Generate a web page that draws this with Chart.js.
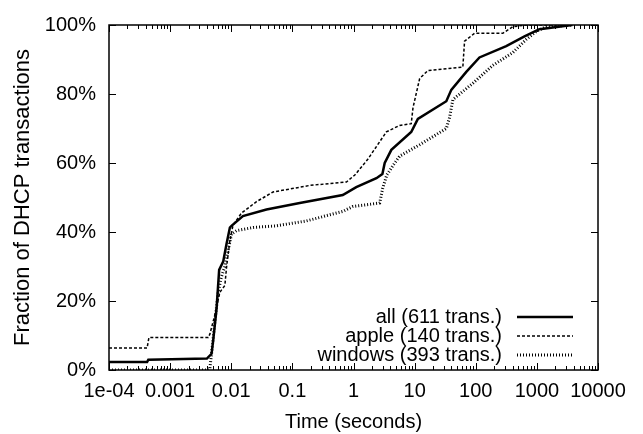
<!DOCTYPE html>
<html>
<head>
<meta charset="utf-8">
<script src="https://cdn.jsdelivr.net/npm/chart.js@4"></script>
<style>
  body { margin: 0; background: #fff; }
  #wrap { width: 643px; height: 434px; }
</style>
</head>
<body>
<div id="wrap"><canvas id="cdf_chart"></canvas></div>
<script>
// tick labels for the log time axis
var xTickValues = [1e-4, 1e-3, 1e-2, 1e-1, 1, 10, 100, 1000, 10000];
var xTickLabels = ['1e-04', '0.001', '0.01', '0.1', '1', '10', '100', '1000', '10000'];
var yTickValues = [0, 20, 40, 60, 80, 100];

// series (time in s, fraction in %)
var allTime = [1e-4, 4.2e-4, 4.4e-4, 0.0040, 0.00476, 0.00506, 0.00575, 0.00634, 0.00738, 0.00838, 0.0095, 0.0101, 0.0155, 0.0377, 0.132, 0.667, 1.11, 2.37, 2.97, 3.24, 4.16, 8.8, 11.3, 33, 39.8, 70, 115, 315, 627, 1100, 3800];
var allFrac = [2.3, 2.3, 3.0, 3.3, 4.7, 8.5, 17.8, 29, 31.4, 36.6, 41.3, 41.8, 44.6, 46.5, 48.4, 50.7, 53, 55.6, 56.8, 60, 63.8, 69, 72.8, 77.9, 81.2, 86.4, 90.6, 93.9, 96.7, 98.8, 100];

var appleTime = [1e-4, 4.2e-4, 4.5e-4, 0.0042, 0.00447, 0.0054, 0.0065, 0.00786, 0.0084, 0.0095, 0.0107, 0.0147, 0.0259, 0.0484, 0.192, 0.766, 1.05, 1.7, 3.45, 5.7, 8.8, 9.4, 12.1, 16.5, 61.5, 65.6, 95.5, 277, 404, 668, 4000];
var appleFrac = [6.4, 6.4, 9.4, 9.4, 10.4, 16, 22.5, 24.5, 30, 37.5, 42, 45.5, 48.8, 51.6, 53.5, 54.5, 56.5, 61, 69, 70.9, 71.4, 76, 84.5, 86.8, 87.8, 95.3, 97.6, 97.6, 99.5, 100, 100];

var windowsTime = [1e-4, 0.0043, 0.00447, 0.00476, 0.0054, 0.0061, 0.0069, 0.00786, 0.0089, 0.0101, 0.0122, 0.0228, 0.055, 0.17, 0.674, 0.98, 2.68, 3.0, 3.5, 4.4, 5.7, 12.1, 33, 37.3, 42.3, 89.7, 190, 404, 668, 975, 1419, 3800];
var windowsFrac = [0, 0, 0.5, 4.7, 14, 22.5, 27, 30, 34.7, 39.4, 40.4, 41.3, 41.8, 43.2, 46, 47.4, 48.4, 52.6, 56.5, 59.2, 62, 65.3, 70, 73.2, 78.4, 83.1, 88.3, 92, 95.8, 98.1, 99.5, 100];

var seriesNames = ['all (611 trans.)', 'apple (140 trans.)', 'windows (393 trans.)'];

function toPoints(xs, ys) {
  var pts = [];
  for (var i = 0; i < xs.length; i++) { pts.push({x: xs[i], y: ys[i]}); }
  return pts;
}

var FONT = '"Liberation Sans", Arial, Helvetica, sans-serif';

// gnuplot style frame with inward ticks on all four sides
var framePlugin = {
  id: 'frame',
  afterDatasetsDraw: function(chart) {
    var ctx = chart.ctx, a = chart.chartArea;
    var sx = chart.scales.x, sy = chart.scales.y;
    ctx.save();
    ctx.strokeStyle = '#000';
    ctx.lineWidth = 1;
    ctx.beginPath();
    for (var d = -4; d <= 4; d++) {
      var px = Math.round(sx.getPixelForValue(Math.pow(10, d))) + 0.5;
      ctx.moveTo(px, a.bottom); ctx.lineTo(px, a.bottom - 7);
      ctx.moveTo(px, a.top); ctx.lineTo(px, a.top + 7);
      if (d < 4) {
        for (var m = 2; m <= 9; m++) {
          var mx = Math.round(sx.getPixelForValue(m * Math.pow(10, d))) + 0.5;
          ctx.moveTo(mx, a.bottom); ctx.lineTo(mx, a.bottom - 4);
          ctx.moveTo(mx, a.top); ctx.lineTo(mx, a.top + 4);
        }
      }
    }
    yTickValues.forEach(function(v) {
      var py = Math.round(sy.getPixelForValue(v)) + 0.5;
      ctx.moveTo(a.left, py); ctx.lineTo(a.left + 7, py);
      ctx.moveTo(a.right, py); ctx.lineTo(a.right - 7, py);
    });
    ctx.stroke();
    ctx.lineWidth = 1.5;
    ctx.strokeRect(a.left, a.top, a.right - a.left, a.bottom - a.top);

    // key, bottom right inside the plot
    ctx.font = '20px ' + FONT;
    ctx.fillStyle = '#000';
    ctx.textAlign = 'right';
    ctx.textBaseline = 'middle';
    chart.data.datasets.forEach(function(ds, i) {
      var y = 317 + i * 19;
      ctx.fillText(ds.label, 502, y);
      ctx.beginPath();
      ctx.lineWidth = ds.borderWidth;
      ctx.setLineDash(ds.borderDash || []);
      ctx.moveTo(517, y); ctx.lineTo(573, y);
      ctx.stroke();
    });
    ctx.restore();
  }
};

new Chart(document.getElementById('cdf_chart'), {
  type: 'scatter',
  data: {
    datasets: [{
      label: seriesNames[0],
      data: toPoints(allTime, allFrac),
      borderColor: '#000',
      borderWidth: 2.5,
      borderDash: []
    }, {
      label: seriesNames[1],
      data: toPoints(appleTime, appleFrac),
      borderColor: '#000',
      borderWidth: 1.5,
      borderDash: [3, 2]
    }, {
      label: seriesNames[2],
      data: toPoints(windowsTime, windowsFrac),
      borderColor: '#000',
      borderWidth: 3,
      borderDash: [1, 2]
    }]
  },
  options: {
    responsive: true,
    maintainAspectRatio: false,
    animation: false,
    showLine: true,
    elements: { point: { radius: 0, hoverRadius: 0 }, line: { tension: 0 } },
    layout: { padding: { left: 0, right: 45, top: 15, bottom: 0 } },
    plugins: { legend: { display: false }, tooltip: { enabled: false } },
    scales: {
      x: {
        type: 'logarithmic',
        min: 1e-4,
        max: 1e4,
        afterBuildTicks: function(scale) {
          scale.ticks = xTickValues.map(function(v) { return {value: v}; });
        },
        afterFit: function(scale) { scale.height = 64; },
        grid: { display: false, drawTicks: false },
        border: { display: false },
        ticks: {
          autoSkip: false,
          maxRotation: 0,
          padding: 9,
          color: '#000',
          font: { size: 20, family: FONT },
          callback: function(v, i) { return xTickLabels[i]; }
        },
        title: {
          display: true,
          text: 'Time (seconds)',
          color: '#000',
          font: { size: 20, family: FONT },
          padding: { top: 0, bottom: 0 }
        }
      },
      y: {
        min: 0,
        max: 100,
        afterBuildTicks: function(scale) {
          scale.ticks = yTickValues.map(function(v) { return {value: v}; });
        },
        afterFit: function(scale) { scale.width = 109; },
        grid: { display: false, drawTicks: false },
        border: { display: false },
        ticks: {
          padding: 13,
          color: '#000',
          font: { size: 20, family: FONT },
          callback: function(v) { return v + '%'; }
        },
        title: {
          display: true,
          text: 'Fraction of DHCP transactions',
          color: '#000',
          font: { size: 22, family: FONT },
          padding: { top: 10, bottom: 0 }
        }
      }
    }
  },
  plugins: [framePlugin]
});
</script>
</body>
</html>
